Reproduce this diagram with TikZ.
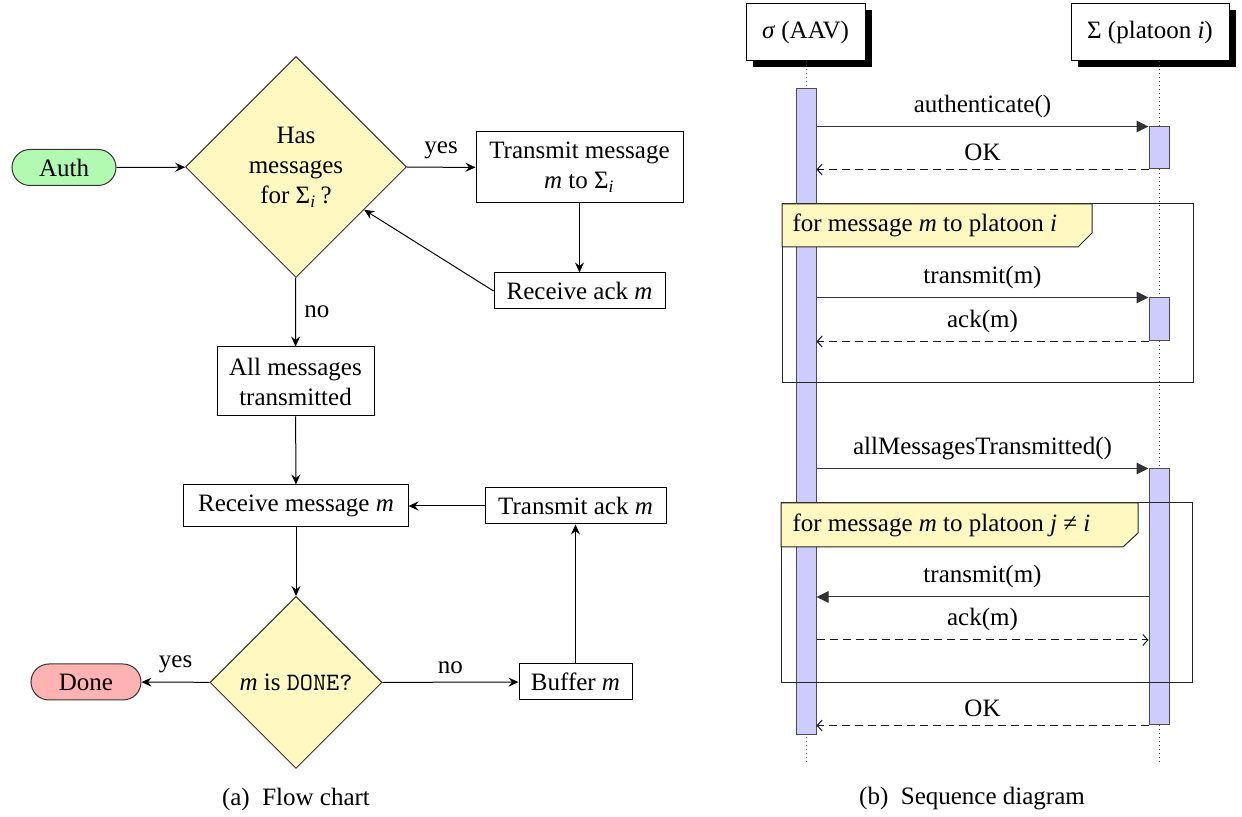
\documentclass[tikz,border=0pt]{standalone}
\usepackage{fontspec}
\IfFontExistsTF{LiberationSerif-Regular.ttf}
  {\setmainfont{LiberationSerif}[Extension=.ttf,UprightFont=*-Regular,ItalicFont=*-Italic,BoldFont=*-Bold,BoldItalicFont=*-BoldItalic]}
  {\setmainfont{Liberation Serif}}
\usetikzlibrary{shapes.geometric,shapes.misc,arrows.meta,shadows}
\definecolor{dyellow}{RGB}{255,248,192}
\definecolor{tgreen}{RGB}{178,250,178}
\definecolor{tred}{RGB}{255,178,178}
\definecolor{actblue}{RGB}{204,204,255}
\begin{document}
\begin{tikzpicture}[x=0.4pt,y=-0.4pt,
  font=\rmfamily\fontsize{10}{12}\selectfont,
  box/.style={draw, rectangle, align=center, inner sep=0pt},
  term/.style={draw=black!80, rounded rectangle, inner sep=0pt, minimum height=14.4pt},
  dec/.style={draw=black!80, diamond, aspect=1, fill=dyellow, inner sep=0pt, align=center},
  flow/.style={-{Stealth[length=4pt,width=3.6pt,inset=1.4pt]}},
  inst/.style={draw, rectangle, fill=white, inner sep=0pt, minimum height=22.8pt,
    drop shadow={shadow xshift=2.7pt, shadow yshift=-2.3pt, opacity=1, fill=black}},
  lifeline/.style={draw=black!70, dash pattern=on 0.4pt off 1.2pt},
  actbar/.style={draw=black!70, fill=actblue, rectangle, inner sep=0pt, minimum width=8pt},
  call/.style={draw=black!80, -{Triangle[length=4.8pt,width=4.6pt]}},
  ret/.style={draw=black!90, dash pattern=on 3.2pt off 2pt, -{Straight Barb[length=2pt,width=4.4pt]}},
  framebox/.style={draw=black!85},
  framelab/.style={draw=black!85, fill=dyellow}
]
\useasboundingbox (0,0) rectangle (1242,817);

% ---------------- Flow chart ----------------
\node[term, fill=tgreen, minimum width=41.6pt] (auth) at (64,167.5) {Auth};
\node[dec, minimum width=88.4pt, minimum height=88.4pt] (d1) at (296,167) {Has\\messages\\for Σ\textsubscript{\textit{i}}\,?};
\node[box, minimum width=82.8pt, minimum height=28.4pt] (tx) at (579.5,167.5) {Transmit message\\\textit{m} to Σ\textsubscript{\textit{i}}};
\node[box, minimum width=68.4pt, minimum height=14.4pt] (rack) at (579.5,291) {Receive ack \textit{m}};
\node[box, minimum width=62.8pt, minimum height=27.6pt] (all) at (295.5,381.5) {All messages\\transmitted};
\node[box, minimum width=89.6pt, minimum height=16.8pt] (rmsg) at (296,506) {Receive message \textit{m}};
\node[box, minimum width=72.4pt, minimum height=14.4pt] (tack) at (575.5,506) {Transmit ack \textit{m}};
\node[dec, minimum width=68.8pt, minimum height=68.8pt] (d2) at (296,682.5) {\textit{m} is \texttt{DONE?}};
\node[term, fill=tred, minimum width=44pt] (done) at (86,682) {Done};
\node[box, minimum width=45.2pt, minimum height=14.4pt] (buf) at (575.5,682) {Buffer \textit{m}};

\draw[flow] (auth) -- (d1);
\draw[flow] (d1) -- node[above] {yes} (tx);
\draw[flow] (tx) -- (rack);
\draw[flow] (rack.west) -- (d1);
\draw[flow] (d1) -- node[right] {no} (all);
\draw[flow] (all) -- (rmsg);
\draw[flow] (tack) -- (rmsg);
\draw[flow] (rmsg) -- (d2);
\draw[flow] (d2) -- node[above] {yes} (done);
\draw[flow] (d2) -- node[above] {no} (buf);
\draw[flow] (buf) -- (tack);

\node (capa) at (296,799) {(a)\enspace Flow chart};

% ---------------- Sequence diagram ----------------
\coordinate (aavend) at (806,765);
\coordinate (platend) at (1159,765);
\node[inst, minimum width=47.6pt] (aav) at (805.5,32.5) {\textit{σ} (AAV)};
\node[inst, minimum width=63.2pt] (plat) at (1150,32.5) {Σ (platoon \textit{i})};

\draw[lifeline] (aavend |- aav.south) -- (aavend);
\draw[lifeline] (platend |- plat.south) -- (platend);

\node[actbar, minimum height=258.4pt] (bA) at (806,412) {};
\node[actbar, minimum height=16.8pt] (p1) at (1159,148) {};
\node[actbar, minimum height=17.2pt] (p2) at (1159,319.5) {};
\node[actbar, minimum height=102.4pt] (p3) at (1159,597) {};

% frame 1
\draw[framebox] (782,204) rectangle (1193,383);
\draw[framelab] (782,204) -- (1092,204) -- (1092,233) -- (1078,247) -- (782,247) -- cycle;
\node[anchor=base west, inner sep=0pt] (f1) at (792,232) {for message \textit{m} to platoon \textit{i}};
% frame 2
\draw[framebox] (781,503) rectangle (1192,683);
\draw[framelab] (781,503) -- (1138,503) -- (1138,533) -- (1123,547) -- (781,547) -- cycle;
\node[anchor=base west, inner sep=0pt] (f2) at (792,532) {for message \textit{m} to platoon \textit{j} ≠ \textit{i}};

\coordinate (y4) at (0,597);
\coordinate (y5) at (0,640);

\draw[call] (bA.east |- p1.north west) -- node[above] {authenticate()} (p1.north west);
\draw[ret] (p1.south west) -- node[above] {OK} (bA.east |- p1.south west);
\draw[call] (bA.east |- p2.north west) -- node[above] {transmit(m)} (p2.north west);
\draw[ret] (p2.south west) -- node[above] {ack(m)} (bA.east |- p2.south west);
\draw[call] (bA.east |- p3.north west) -- node[above] {allMessagesTransmitted()} (p3.north west);
\draw[call] (p3.west |- y4) -- node[above] {transmit(m)} (bA.east |- y4);
\draw[ret] (bA.east |- y5) -- node[above] {ack(m)} (p3.west |- y5);
\draw[ret] (p3.south west) -- node[above] {OK} (bA.east |- p3.south west);

\node (capb) at (972,799) {(b)\enspace Sequence diagram};
\end{tikzpicture}
\end{document}
